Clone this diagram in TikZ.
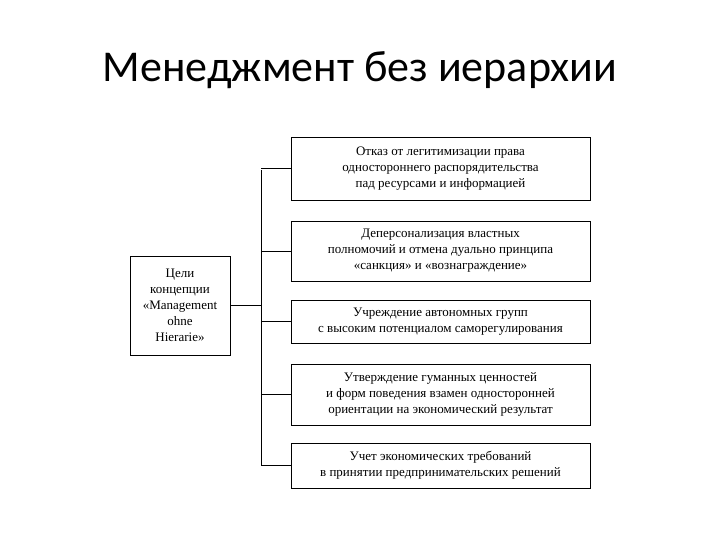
\documentclass[tikz,border=0pt]{standalone}
\usepackage{fontspec}
\setmainfont{Liberation Serif}
\newfontfamily\titlefont{Carlito}
\begin{document}
\begin{tikzpicture}[x=1pt,y=-1pt,
 bx/.style={draw,line width=0.8pt,inner sep=0pt,align=center,font=\fontsize{13}{16}\selectfont},
 ln/.style={line width=0.8pt}]
\useasboundingbox (0,0) rectangle (720,540);
\node[font=\titlefont\fontsize{44}{48}\selectfont] (t) at (360,70) {Менеджмент без иерархии};
\node[bx,minimum width=100,minimum height=99] (L) at (180,305.5) {Цели\\концепции\\«Management\\ohne\\Hierarie»};
\node[bx,minimum width=299,minimum height=63] (b1) at (440.5,168.5) {Отказ от легитимизации права\\одностороннего распорядительства\\пад ресурсами и информацией};
\node[bx,minimum width=299,minimum height=60] (b2) at (440.5,251) {Деперсонализация властных\\полномочий и отмена дуально принципа\\«санкция» и «вознаграждение»};
\node[bx,minimum width=299,minimum height=43] (b3) at (440.5,321.5) {Учреждение автономных групп\\с высоким потенциалом саморегулирования};
\node[bx,minimum width=299,minimum height=61] (b4) at (440.5,394.5) {Утверждение гуманных ценностей\\и форм поведения взамен односторонней\\ориентации на экономический результат};
\node[bx,minimum width=299,minimum height=45] (b5) at (440.5,465.5) {Учет экономических требований\\в принятии предпринимательских решений};
\coordinate (top) at (261,170);
\coordinate (bot) at (261,466);
\draw[ln] (top) -- (bot);
\draw[ln] (L.east) -- (261,305.5);
\foreach \b in {b1,b2,b3,b4,b5} \draw[ln] (\b.west) -- (\b.west -| top);
\end{tikzpicture}
\end{document}
